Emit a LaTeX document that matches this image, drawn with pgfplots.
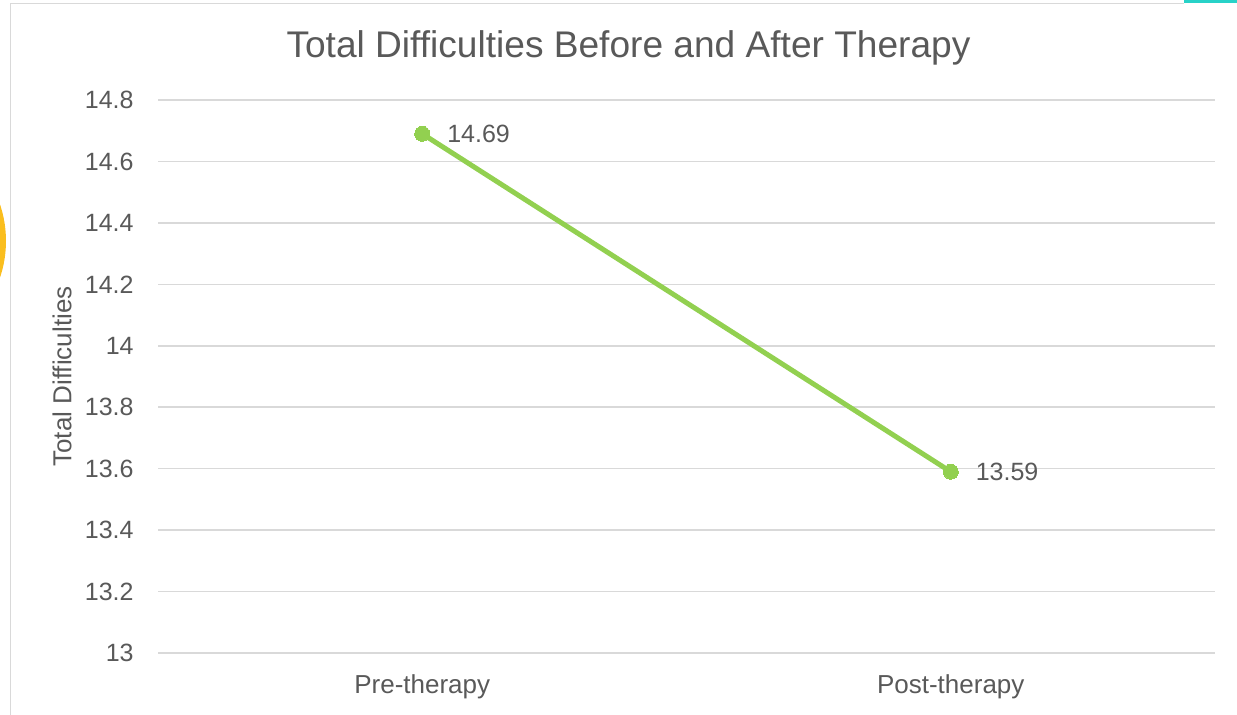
\documentclass[border=0pt]{standalone}
\usepackage{fontspec}
\setmainfont{Liberation Sans}
\usepackage{pgfplots}
\pgfplotsset{compat=1.18}
\definecolor{txtgray}{RGB}{89,89,89}
\definecolor{gridgray}{RGB}{217,217,217}
\definecolor{linegreen}{RGB}{146,208,80}
\definecolor{decoorange}{RGB}{250,190,30}
\definecolor{decocyan}{RGB}{40,210,200}

\begin{document}
\begin{tikzpicture}
\useasboundingbox (0,0) rectangle (618.5pt,-357.5pt);
% slide decorations and chart frame
\fill[decoorange] (-54pt,-120.5pt) circle (57pt);
\draw[gridgray, line width=0.75pt] (5.25pt,-360pt) -- (5.25pt,-1.75pt) -- (592pt,-1.75pt);
\fill[decocyan] (592pt,0pt) rectangle (620pt,-1.6pt);

\begin{axis}[
    at={(79pt,-326.5pt)}, anchor=south west,
    scale only axis, width=528.5pt, height=276.5pt,
    xmin=-0.5, xmax=1.5, ymin=13, ymax=14.8,
    xtick={0,1}, xticklabels={Pre-therapy,Post-therapy},
    ytick={13,13.2,13.4,13.6,13.8,14,14.2,14.4,14.6,14.8},
    yticklabels={13,13.2,13.4,13.6,13.8,14,14.2,14.4,14.6,14.8},
    axis x line*=bottom, axis y line*=left,
    axis line style={-},
    x axis line style={draw=gridgray, line width=0.75pt},
    y axis line style={draw=none},
    major tick length=0pt, tick style={draw=none},
    ymajorgrids, grid style={gridgray, line width=0.75pt},
    tick label style={text=txtgray, inner sep=0pt},
    yticklabel style={font=\fontsize{12.5}{15}\selectfont, xshift=-12pt},
    xticklabel style={font=\fontsize{13}{15}\selectfont, anchor=north, yshift=-10.5pt},
    ylabel={Total Difficulties},
    every axis y label/.style={at={(axis description cs:-0.0908,0.5)}, rotate=90, anchor=center,
        font=\fontsize{13}{15}\selectfont, text=txtgray},
    clip=false,
]
\addplot[linegreen, line width=2.5pt, line join=round,
    mark=*, mark size=3.75pt, mark options={fill=linegreen, draw=linegreen, line width=0pt},
    point meta=explicit symbolic, nodes near coords,
    every node near coord/.append style={anchor=west, inner sep=0pt, xshift=12.5pt,
        font=\fontsize{12.5}{15}\selectfont, text=txtgray}]
    coordinates {(0,14.69) [14.69] (1,13.59) [13.59]};
\end{axis}

\node[font=\fontsize{18.55}{22}\selectfont, text=txtgray] at (314.25pt,-24pt)
    {Total Difficulties Before and After Therapy};
\end{tikzpicture}
\end{document}
